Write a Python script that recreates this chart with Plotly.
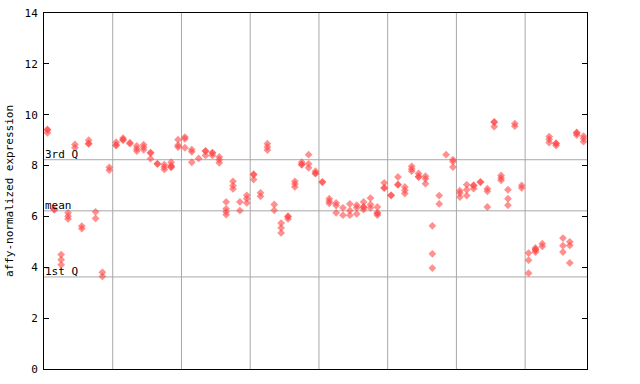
import plotly.graph_objects as go

# Expression values per sample (replicates stacked at the same x)
samples = [
    [9.42, 9.40, 9.29], [6.28, 6.26], [4.50, 4.30, 4.10], [6.14, 6.01, 5.90], [8.83, 8.70],
    [5.62, 5.52], [9.00, 8.87, 8.85], [6.18, 5.92], [3.80, 3.64], [7.93, 7.82],
    [8.92, 8.81, 8.79], [9.08, 9.02, 9.00], [8.90, 8.86], [8.77, 8.66, 8.57], [8.82, 8.72, 8.62],
    [8.51, 8.49, 8.27], [8.08, 8.06], [8.04, 7.94, 7.85], [8.13, 8.00, 7.95, 7.93], [9.02, 8.80, 8.73],
    [9.12, 9.05, 8.70], [8.63, 8.54, 8.13], [8.28], [8.58, 8.56, 8.40], [8.51, 8.49, 8.40],
    [8.34, 8.23, 8.11], [6.57, 6.30, 6.18, 6.07], [7.38, 7.21, 7.08], [6.57, 6.23], [6.83, 6.70, 6.53],
    [7.66, 7.64, 7.45], [6.93, 6.79], [8.86, 8.73, 8.61], [6.47, 6.24], [5.74, 5.55, 5.35],
    [6.01, 5.99, 5.90], [7.38, 7.28, 7.16], [8.13, 8.05, 8.03], [8.43, 8.07, 7.91], [7.78, 7.70, 7.68],
    [7.36, 7.34], [6.70, 6.60, 6.51], [6.53, 6.43, 6.14], [6.34, 6.05], [6.49, 6.23, 6.05],
    [6.44, 6.34, 6.10], [6.57, 6.38, 6.36, 6.27], [6.72, 6.47, 6.34], [6.37, 6.14, 6.12, 6.05], [7.32, 7.13, 7.11],
    [6.84, 6.82], [7.55, 7.26, 7.24], [7.16, 7.03, 6.90], [7.97, 7.87, 7.78], [7.69, 7.57, 7.55],
    [7.58, 7.48, 7.29], [5.63, 4.53, 3.97], [6.82, 6.49], [8.43], [8.23, 8.16, 7.94],
    [7.01, 6.92, 6.76], [7.25, 7.05, 6.82], [7.23, 7.21, 7.09], [7.36, 7.34], [7.09, 6.99, 6.37],
    [9.72, 9.70, 9.53], [7.61, 7.51, 7.42], [7.05, 6.70, 6.44], [9.65, 9.55], [7.22, 7.12],
    [4.56, 4.28, 3.77], [4.76, 4.70, 4.68, 4.60], [4.93, 4.82], [9.14, 9.03, 8.90], [8.88, 8.86, 8.79],
    [5.15, 4.85, 4.60], [5.00, 4.86, 4.17], [9.30, 9.28, 9.20], [9.16, 9.06, 8.94],
]

q3_value = 8.23
mean_value = 6.22
q1_value = 3.62
y_ticks = [0, 2, 4, 6, 8, 10, 12, 14]
group_lines = [10, 20, 30, 40, 50, 60, 70]

xs, ys = [], []
for i, vals in enumerate(samples):
    for v in vals:
        xs.append(i + 0.5)
        ys.append(v)

n = len(samples)
fig = go.Figure()

grid_color = "#a8a8a8"
for gx in group_lines:
    fig.add_shape(type="line", x0=gx, x1=gx, y0=0, y1=14, xref="x", yref="y",
                  line=dict(color=grid_color, width=1), layer="below")
for qv in [q3_value, mean_value, q1_value]:
    fig.add_shape(type="line", x0=0, x1=n, y0=qv, y1=qv, xref="x", yref="y",
                  line=dict(color=grid_color, width=1), layer="below")

fig.add_trace(go.Scatter(
    x=xs, y=ys, mode="markers",
    marker=dict(symbol="diamond", size=6, color="rgba(255,70,70,0.6)", line=dict(width=0)),
    hoverinfo="y", showlegend=False,
))

font = dict(family="DejaVu Sans Mono, monospace", size=11, color="black")
for label, qv in [("3rd Q", q3_value), ("mean", mean_value), ("1st Q", q1_value)]:
    fig.add_annotation(x=0, xref="paper", y=qv, yref="y", text=label, showarrow=False,
                       xanchor="left", yanchor="bottom", xshift=-1, yshift=-3, font=font)

fig.update_xaxes(range=[0, n], showticklabels=False, showgrid=False, zeroline=False,
                 showline=True, linecolor="black", linewidth=1, mirror=True, ticks="",
                 automargin=False)
fig.update_yaxes(range=[0, 14], tickvals=y_ticks, ticktext=[str(t) for t in y_ticks],
                 showgrid=False, zeroline=False, showline=True, linecolor="black",
                 linewidth=1, mirror="ticks", ticks="inside", ticklen=5, tickcolor="black",
                 tickfont=font, ticklabelstandoff=3, automargin=False,
                 title=dict(text="affy-normalized expression", font=font, standoff=8))

fig.update_layout(
    width=640, height=384,
    margin=dict(l=44, r=53, t=13, b=15, autoexpand=False),
    plot_bgcolor="white", paper_bgcolor="white",
    font=font,
)

fig.write_html("out.html")
